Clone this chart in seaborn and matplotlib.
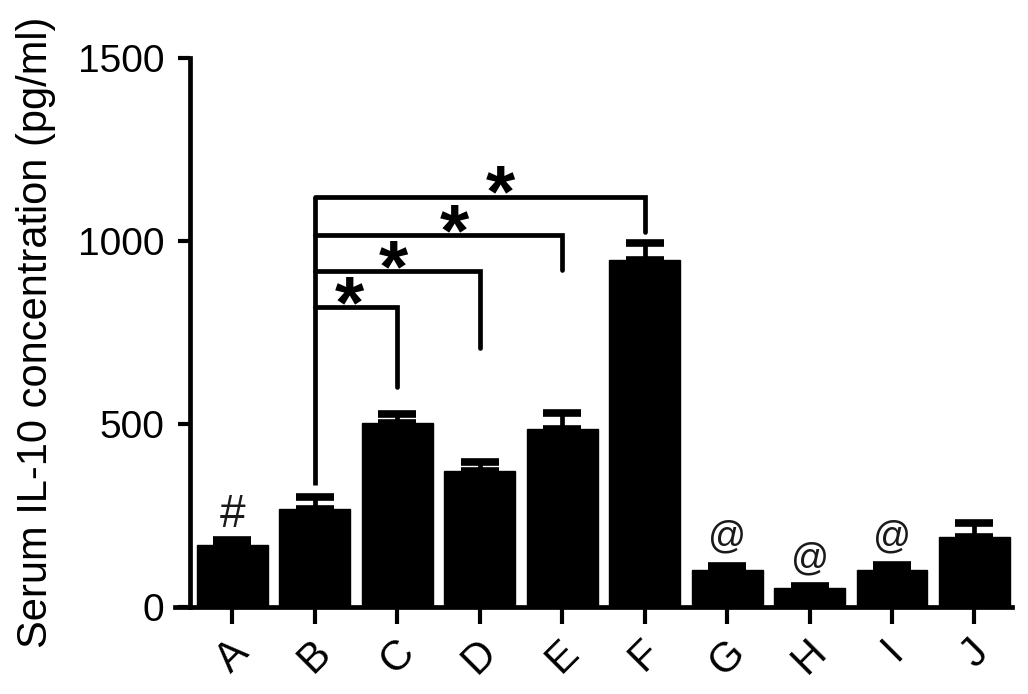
import numpy as np
import pandas as pd
import matplotlib
matplotlib.use('Agg')
import matplotlib.pyplot as plt
import seaborn as sns

# ── Veriler ──
gruplar = ['A', 'B', 'C', 'D', 'E', 'F', 'G', 'H', 'I', 'J']
il10 = [170, 268, 503, 372, 487, 948, 103, 52, 103, 193]
hata = [14, 32, 24, 24, 45, 47, 10, 6, 12, 38]

# işaretler (grup, y, sembol, boyut)
isaret_gruplari = ['A', 'G', 'H', 'I']
isaret_y = [219, 164, 104, 164]
isaret_sembol = ['#', '@', '@', '@']
isaret_boyut = [33, 27, 27, 27]

# B'den çıkan karşılaştırma çizgileri
karsilastirma_hedef = ['C', 'D', 'E', 'F']
karsilastirma_seviye = [820, 918, 1016, 1121]
karsilastirma_alt = [601, 708, 921, 1025]
yildiz_x = [1.42, 1.95, 2.69, 3.25]
b_alt = 333

yticks = [0, 500, 1000, 1500]

sns.set_theme(style='ticks')
plt.rcParams['font.family'] = ['Liberation Sans', 'DejaVu Sans']
plt.rcParams['text.color'] = 'black'
plt.rcParams['axes.labelcolor'] = 'black'
plt.rcParams['xtick.color'] = 'black'
plt.rcParams['ytick.color'] = 'black'
plt.rcParams['axes.edgecolor'] = 'black'

df = pd.DataFrame({'grup': gruplar, 'deger': il10})

fig = plt.figure(figsize=(10.28, 6.94), dpi=100)
ax = fig.add_axes([0.170, 0.125, 0.814, 0.791])

sns.barplot(data=df, x='grup', y='deger', color='black', errorbar=None,
            width=0.86, saturation=1, edgecolor='black', ax=ax)
ax.errorbar(np.arange(len(gruplar)), il10,
            yerr=[np.zeros(len(hata)), hata], fmt='none', ecolor='black',
            elinewidth=3.4, capsize=13.5, capthick=5.5)

# işaretler
for g, y, s, b in zip(isaret_gruplari, isaret_y, isaret_sembol, isaret_boyut):
    ax.text(gruplar.index(g), y, s, ha='center', va='baseline',
            fontsize=b, color='#1a1a1a')

# karşılaştırma çizgileri
xb = gruplar.index('B')
ax.plot([xb, xb], [b_alt, max(karsilastirma_seviye)], color='black',
        lw=3.4, solid_capstyle='butt')
for hedef, sev, alt, yx in zip(karsilastirma_hedef, karsilastirma_seviye,
                               karsilastirma_alt, yildiz_x):
    xh = gruplar.index(hedef)
    ax.plot([xb, xh, xh], [sev, sev, alt], color='black', lw=3.4,
            solid_joinstyle='miter', solid_capstyle='round')
    ax.text(yx, sev - 95, '*', ha='center', va='bottom', fontsize=54,
            fontweight='bold', color='black')

ax.set_ylim(0, 1500)
ax.set_xlim(-0.70, 9.45)
ax.set_yticks(yticks)
ax.spines['left'].set_position(('data', -0.52))
ax.spines['left'].set_linewidth(3.4)
ax.spines['bottom'].set_linewidth(3.4)
sns.despine(ax=ax)
ax.tick_params(axis='y', length=9, width=3, labelsize=28, pad=9)
ax.tick_params(axis='x', length=12, width=3, labelsize=30, pad=6)
plt.setp(ax.get_xticklabels(), rotation=45, ha='center')
ax.set_xlabel('')
ax.set_ylabel('Serum IL-10 concentration (pg/ml)', fontsize=30, labelpad=16)

fig.savefig('out.png', dpi=100)
